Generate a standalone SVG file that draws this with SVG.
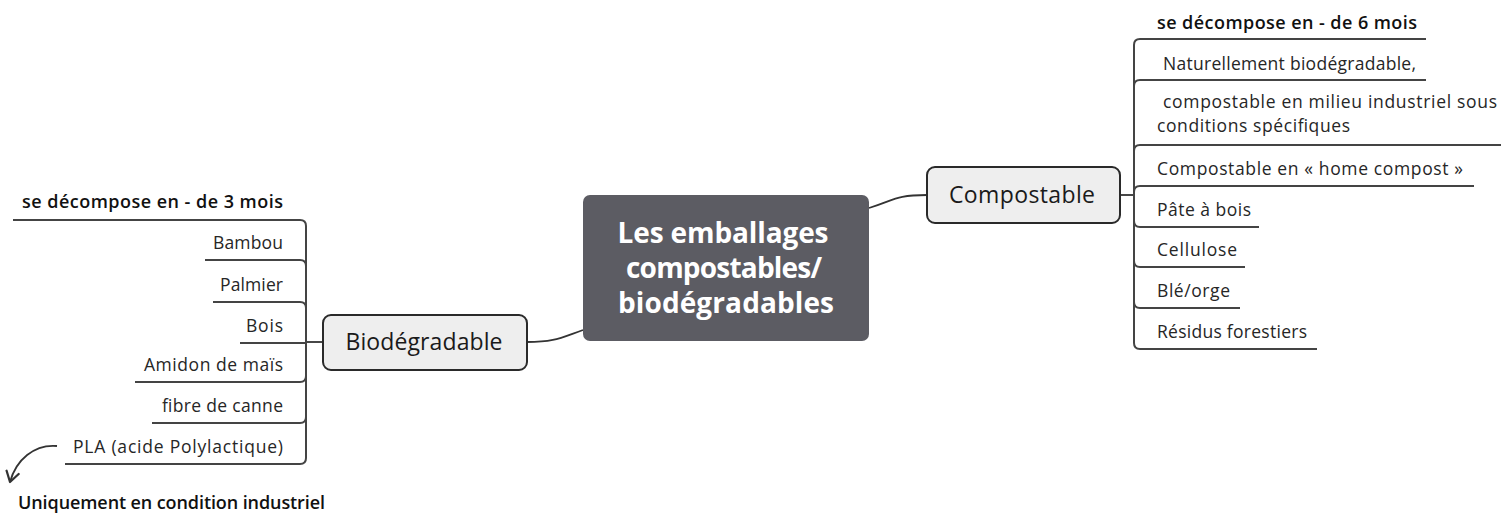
<svg xmlns="http://www.w3.org/2000/svg" width="1502" height="516" viewBox="0 0 1502 516">
<defs>
<style>
.t{font-family:"Open Sans","Liberation Sans",sans-serif;font-size:17.5px;fill:#262626}
.b{font-family:"Open Sans","Liberation Sans",sans-serif;font-size:18px;font-weight:600;fill:#111}
.e{text-anchor:end}
.ln{fill:none;stroke:#333;stroke-width:1.8}
.ul{fill:none;stroke:#444;stroke-width:2}
.box{fill:#eeeeee;stroke:#2a2a2a;stroke-width:2}
.bt{font-family:"Open Sans","Liberation Sans",sans-serif;font-size:23px;font-weight:500;fill:#1a1a1a;text-anchor:middle}
.ct{font-family:"Open Sans","Liberation Sans",sans-serif;font-size:28px;font-weight:700;fill:#ffffff;text-anchor:middle}
</style>
<marker id="ah" viewBox="0 0 12 12" refX="10" refY="6" markerWidth="15" markerHeight="15" markerUnits="userSpaceOnUse" orient="auto">
<path d="M2 1 L10 6 L2 11" fill="none" stroke="#333" stroke-width="1.8" stroke-linecap="round" stroke-linejoin="round"/>
</marker>
</defs>
<rect width="1502" height="516" fill="#ffffff"/>
<g id="connectors">
<path class="ln" d="M869 208 C 895 200, 895 195, 927 195"/>
<path class="ln" d="M583 330 C 560 338, 555 342, 527 342"/>
<path class="ln" d="M1120 195 H1134"/>
<path class="ln" d="M323 342 H306"/>
<path class="ul" d="M1134 195 V45 Q1134 39 1140 39 H1426"/>
<path class="ul" d="M1134 195 V86 Q1134 80 1140 80 H1426"/>
<path class="ul" d="M1134 195 V151 Q1134 145 1140 145 H1501"/>
<path class="ul" d="M1134 195 V192 Q1134 186 1140 186 H1474"/>
<path class="ul" d="M1134 195 V221 Q1134 227 1140 227 H1259"/>
<path class="ul" d="M1134 195 V261 Q1134 267 1140 267 H1245"/>
<path class="ul" d="M1134 195 V302 Q1134 308 1140 308 H1240"/>
<path class="ul" d="M1134 195 V343 Q1134 349 1140 349 H1317"/>
<path class="ul" d="M306 342 V226 Q306 220 300 220 H13"/>
<path class="ul" d="M306 342 V266 Q306 260 300 260 H205"/>
<path class="ul" d="M306 342 V308 Q306 302 300 302 H213"/>
<path class="ul" d="M306 342 V343 H240"/>
<path class="ul" d="M306 342 V376 Q306 382 300 382 H135"/>
<path class="ul" d="M306 342 V417 Q306 423 300 423 H152"/>
<path class="ul" d="M306 342 V458 Q306 464 300 464 H65"/>
<path class="ln" d="M57 446 C 34 444, 16 460, 10 482" marker-end="url(#ah)"/>
</g>
<g id="center">
<rect x="583" y="195" width="286" height="146" rx="7" fill="#5c5c63"/>
<text class="ct" x="723" y="243" textLength="211" lengthAdjust="spacing">Les emballages</text>
<text class="ct" x="724" y="278" textLength="196" lengthAdjust="spacing">compostables/</text>
<text class="ct" x="726" y="313" textLength="216" lengthAdjust="spacing">biodégradables</text>
</g>
<g id="compostable">
<rect class="box" x="927" y="167" width="193" height="56" rx="8"/>
<text class="bt" x="1022" y="203" textLength="146" lengthAdjust="spacing">Compostable</text>
</g>
<g id="biodegradable">
<rect class="box" x="323" y="315" width="204" height="55" rx="8"/>
<text class="bt" x="424" y="350" textLength="157" lengthAdjust="spacing">Biodégradable</text>
</g>
<g id="right-items">
<text class="b" x="1157" y="29" textLength="260" lengthAdjust="spacing">se décompose en - de 6 mois</text>
<text class="t" x="1163" y="70" textLength="253" lengthAdjust="spacing">Naturellement biodégradable,</text>
<text class="t" x="1163" y="108" textLength="334" lengthAdjust="spacing">compostable en milieu industriel sous</text>
<text class="t" x="1157" y="132" textLength="193" lengthAdjust="spacing">conditions spécifiques</text>
<text class="t" x="1157" y="175" textLength="306" lengthAdjust="spacing">Compostable en « home compost »</text>
<text class="t" x="1157" y="216" textLength="94" lengthAdjust="spacing">Pâte à bois</text>
<text class="t" x="1157" y="256" textLength="80" lengthAdjust="spacing">Cellulose</text>
<text class="t" x="1157" y="297" textLength="73" lengthAdjust="spacing">Blé/orge</text>
<text class="t" x="1157" y="338" textLength="150" lengthAdjust="spacing">Résidus forestiers</text>
</g>
<g id="left-items">
<text class="b e" x="283" y="208" textLength="261" lengthAdjust="spacing">se décompose en - de 3 mois</text>
<text class="t e" x="283" y="249" textLength="70" lengthAdjust="spacing">Bambou</text>
<text class="t e" x="283" y="291" textLength="63" lengthAdjust="spacing">Palmier</text>
<text class="t e" x="283" y="332" textLength="37" lengthAdjust="spacing">Bois</text>
<text class="t e" x="283" y="371" textLength="139" lengthAdjust="spacing">Amidon de maïs</text>
<text class="t e" x="283" y="412" textLength="121" lengthAdjust="spacing">fibre de canne</text>
<text class="t e" x="283" y="453" textLength="210" lengthAdjust="spacing">PLA (acide Polylactique)</text>
</g>
<g id="note">
<text class="b" x="18" y="509" textLength="307" lengthAdjust="spacing">Uniquement en condition industriel</text>
</g>
</svg>
